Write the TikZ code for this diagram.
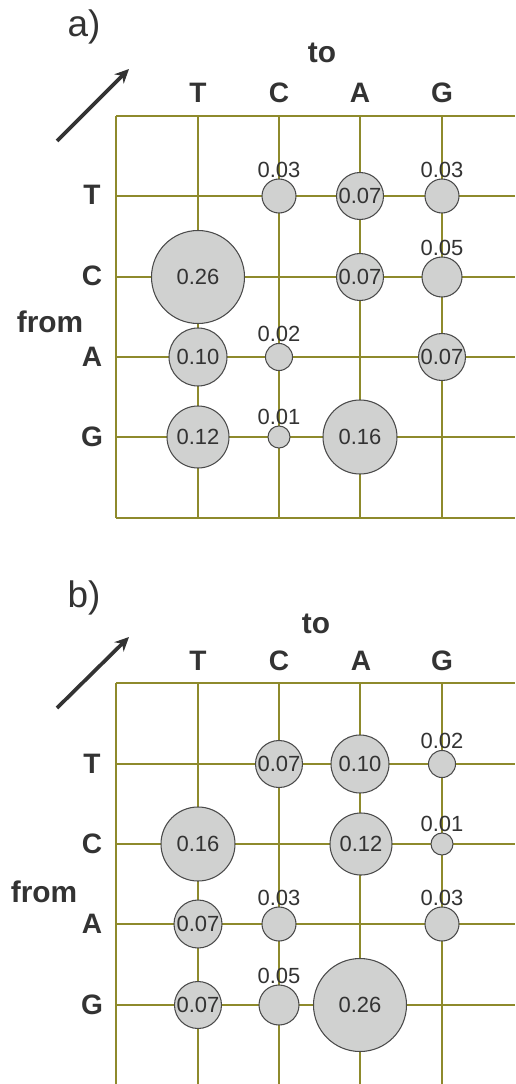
\documentclass[tikz,border=0pt]{standalone}
\usepackage{fontspec}
\setmainfont{Liberation Sans}
\usepackage{xcolor}
\usetikzlibrary{arrows.meta,positioning}
\definecolor{ink}{HTML}{333333}
\definecolor{gridcol}{HTML}{8E8A2C}
\definecolor{disc}{HTML}{D0D1D0}
\definecolor{rim}{HTML}{4A4A4A}
\tikzset{
  gridline/.style={draw=gridcol, line width=0.85pt},
  freq/.style={circle, draw=rim, fill=disc, line width=0.6pt, inner sep=0pt,
    minimum size=#1*0.02cm, text=ink, font=\fontsize{12.5}{12.5}\selectfont},
  freqlabel/.style={text=ink, font=\fontsize{12.5}{12.5}\selectfont, inner sep=0.5pt},
  basename/.style={text=ink, anchor=base, font=\bfseries\fontsize{16}{16}\selectfont},
  axisname/.style={text=ink, anchor=base, font=\bfseries\fontsize{17}{17}\selectfont},
  panelname/.style={text=ink, anchor=base, font=\fontsize{21}{21}\selectfont},
  dirarr/.style={-{Stealth[length=8pt,width=7.5pt]}, draw=ink, line width=2.1pt}
}

\begin{document}
\begin{tikzpicture}[x=0.02cm, y=0.02cm]
  \useasboundingbox (0,0) rectangle (515,-1084);

  % panel a grid
  \draw[gridline] (116,-116) -- (515,-116);
  \draw[gridline] (116,-518) -- (515,-518);
  \draw[gridline] (116,-116) -- (116,-518);
  \foreach \x in {198,279,360,442}
    \draw[gridline] (\x,-116) -- (\x,-518);
  \foreach \y in {196,277,357,437}
    \draw[gridline] (116,-\y) -- (515,-\y);

  % panel b grid
  \draw[gridline] (116,-683) -- (515,-683);
  \draw[gridline] (116,-683) -- (116,-1084);
  \foreach \x in {198,279,360,442}
    \draw[gridline] (\x,-683) -- (\x,-1084);
  \foreach \y in {764,844,924,1005}
    \draw[gridline] (116,-\y) -- (515,-\y);

  % panel a frequencies
  \node[freq=34] (aTC) at (279,-196) {};
  \node[freq=47] (aTA) at (360,-196) {0.07};
  \node[freq=34] (aTG) at (442,-196) {};
  \node[freq=93] (aCT) at (198,-277) {0.26};
  \node[freq=47] (aCA) at (360,-277) {0.07};
  \node[freq=40] (aCG) at (442,-277) {};
  \node[freq=58] (aAT) at (198,-357) {0.10};
  \node[freq=27] (aAC) at (279,-357) {};
  \node[freq=47] (aAG) at (442,-357) {0.07};
  \node[freq=62] (aGT) at (198,-437) {0.12};
  \node[freq=22] (aGC) at (279,-437) {};
  \node[freq=74] (aGA) at (360,-437) {0.16};

  \node[freqlabel, above=0pt of aTC] (aTCv) {0.03};
  \node[freqlabel, above=0pt of aTG] (aTGv) {0.03};
  \node[freqlabel, above=0pt of aCG] (aCGv) {0.05};
  \node[freqlabel, above=0pt of aAC] (aACv) {0.02};
  \node[freqlabel, above=0pt of aGC] (aGCv) {0.01};

  % panel b frequencies
  \node[freq=47] (bTC) at (279,-764) {0.07};
  \node[freq=58] (bTA) at (360,-764) {0.10};
  \node[freq=27] (bTG) at (442,-764) {};
  \node[freq=74] (bCT) at (198,-844) {0.16};
  \node[freq=62] (bCA) at (361,-844) {0.12};
  \node[freq=22] (bCG) at (442,-844) {};
  \node[freq=48] (bAT) at (198,-924) {0.07};
  \node[freq=34] (bAC) at (279,-924) {};
  \node[freq=34] (bAG) at (442,-924) {};
  \node[freq=47] (bGT) at (198,-1005) {0.07};
  \node[freq=40] (bGC) at (279,-1005) {};
  \node[freq=93] (bGA) at (360,-1005) {0.26};

  \node[freqlabel, above=0pt of bTG] (bTGv) {0.02};
  \node[freqlabel, above=0pt of bCG] (bCGv) {0.01};
  \node[freqlabel, above=0pt of bAC] (bACv) {0.03};
  \node[freqlabel, above=0pt of bAG] (bAGv) {0.03};
  \node[freqlabel, above=0pt of bGC] (bGCv) {0.05};

  % panel a labels
  \node[panelname] (aname) at (84,-37) {a)};
  \node[axisname] (ato) at (322,-63) {to};
  \node[axisname] (afrom) at (50,-332) {from};
  \node[basename] (acT) at (198,-103) {T};
  \node[basename] (acC) at (279,-103) {C};
  \node[basename] (acA) at (360,-103) {A};
  \node[basename] (acG) at (442,-103) {G};
  \node[basename] (arT) at (92,-205) {T};
  \node[basename] (arC) at (92,-286) {C};
  \node[basename] (arA) at (92,-366) {A};
  \node[basename] (arG) at (92,-446) {G};

  \coordinate (aTail) at (57,-141);
  \coordinate (aHead) at (129,-69);
  \draw[dirarr] (aTail) -- (aHead);

  % panel b labels
  \node[panelname] (bname) at (84,-607) {b)};
  \node[axisname] (bto) at (316,-633) {to};
  \node[axisname] (bfrom) at (44,-902) {from};
  \node[basename] (bcT) at (198,-670) {T};
  \node[basename] (bcC) at (279,-670) {C};
  \node[basename] (bcA) at (361,-670) {A};
  \node[basename] (bcG) at (442,-670) {G};
  \node[basename] (brT) at (92,-773) {T};
  \node[basename] (brC) at (92,-853) {C};
  \node[basename] (brA) at (92,-933) {A};
  \node[basename] (brG) at (92,-1014) {G};

  \coordinate (bTail) at (57,-708);
  \coordinate (bHead) at (129,-637);
  \draw[dirarr] (bTail) -- (bHead);
\end{tikzpicture}
\end{document}
